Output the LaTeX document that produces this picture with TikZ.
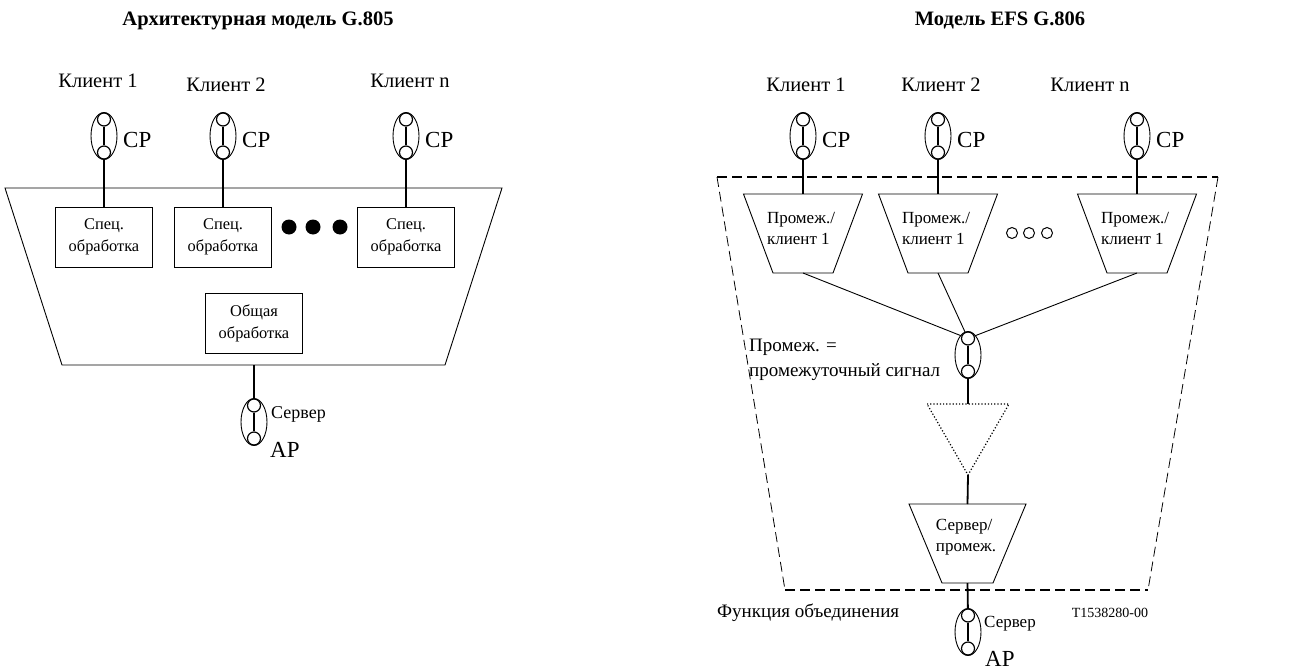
\documentclass[tikz,border=0pt]{standalone}
\usepackage{fontspec}
\setmainfont{Liberation Serif}
\usetikzlibrary{shapes.geometric}
\begin{document}
\begin{tikzpicture}[x=1pt,y=-1pt,
  cpell/.style={draw, ellipse, line width=0.9pt, minimum width=26pt, minimum height=47pt, inner sep=0pt},
  port/.style={draw, circle, line width=1.2pt, minimum size=13pt, inner sep=0pt, fill=white},
  link/.style={line width=1.8pt},
  thinline/.style={line width=0.9pt},
  title/.style={font=\fontsize{20.5}{24}\bfseries\selectfont, inner sep=0pt, anchor=base},
  lbl/.style={font=\fontsize{20.5}{24}\selectfont, inner sep=0pt, anchor=base},
  cplbl/.style={font=\fontsize{23}{26}\selectfont, inner sep=0pt, anchor=base west},
  smalllbl/.style={font=\fontsize{18}{20}\selectfont, inner sep=0pt, anchor=base west},
  procbox/.style={draw, line width=0.9pt, minimum width=97pt, minimum height=60pt, align=center,
    inner sep=0pt, font=\fontsize{16.4}{22}\selectfont},
  traptext/.style={align=left, inner sep=0pt, font=\fontsize{17}{21}\selectfont},
  bigdot/.style={fill=black, circle, minimum size=15pt, inner sep=0pt},
  opendot/.style={draw, circle, line width=1pt, minimum size=11pt, inner sep=0pt},
  fnboundary/.style={dash pattern=on 10pt off 5pt}
]
\useasboundingbox (0,0) rectangle (1289,669);

% connection point: ellipse with two ports
\newcommand\connpt[3]{%
  \node[cpell] (#1) at (#2,#3) {};
  \node[port] (#1a) at (#2,#3-16.5) {};
  \node[port] (#1b) at (#2,#3+16.5) {};
  \draw[link] (#1a) -- (#1b);
}

% ---------------- G.805 architectural model ----------------
\node[title] (tL) at (258,26) {Архитектурная модель G.805};

\node[lbl] (kL1) at (98,87) {Клиент 1};
\node[lbl] (kL2) at (226,91) {Клиент 2};
\node[lbl] (kLn) at (410,87) {Клиент n};

\connpt{cL1}{104}{136}
\connpt{cL2}{223}{136}
\connpt{cLn}{406}{136}
\node[cplbl] (pL1) at (123,147) {CP};
\node[cplbl] (pL2) at (242,147) {CP};
\node[cplbl] (pLn) at (425,147) {CP};

% adaptation block
\draw[thinline] (5,188) -- (502,188) -- (445,365) -- (62,365) -- cycle;
\coordinate (blkL) at (254,365);

\node[procbox] (s1) at (104,237) {Спец.\\обработка};
\node[procbox] (s2) at (223,237) {Спец.\\обработка};
\node[procbox] (sn) at (406,237) {Спец.\\обработка};
\node[procbox] (gen) at (254,323) {Общая\\обработка};

\node[bigdot] (d1) at (289,227) {};
\node[bigdot] (d2) at (313,227) {};
\node[bigdot] (d3) at (340,227) {};

\draw[link] (cL1b) -- (s1.north);
\draw[link] (cL2b) -- (s2.north);
\draw[link] (cLnb) -- (sn.north);

\connpt{aL}{254}{422}
\draw[link] (blkL) -- (aLa);
\node[smalllbl] (srvL) at (271,418) {Сервер};
\node[cplbl] (apL) at (270,457) {AP};

% ---------------- G.806 EFS model ----------------
\node[title] (tR) at (1000,26) {Модель EFS G.806};

\node[lbl] (kR1) at (806,91) {Клиент 1};
\node[lbl] (kR2) at (941,91) {Клиент 2};
\node[lbl] (kRn) at (1090,91) {Клиент n};

\connpt{cR1}{803}{136}
\connpt{cR2}{938}{136}
\connpt{cRn}{1137}{136}
\node[cplbl] (pR1) at (822,147) {CP};
\node[cplbl] (pR2) at (957,147) {CP};
\node[cplbl] (pRn) at (1156,147) {CP};

% combining function boundary
\draw[fnboundary, line width=1.4pt] (717,177) -- (1218,177);
\draw[fnboundary, line width=1.4pt] (785,590) -- (1148,590);
\draw[fnboundary, line width=0.8pt] (717,177) -- (785,590);
\draw[fnboundary, line width=0.8pt] (1218,177) -- (1148,590);

% intermediate/client adaptation functions
\newcommand\adapt[6]{% name, cx, ytop, half top, half bottom, ybottom
  \draw[thinline] (#2-#4,#3) -- (#2+#4,#3) -- (#2+#5,#6) -- (#2-#5,#6) -- cycle;
  \coordinate (#1top) at (#2,#3);
  \coordinate (#1bot) at (#2,#6);
}
\adapt{a1}{803}{194}{59.5}{30}{273}
\adapt{a2}{938}{194}{59.5}{30}{273}
\adapt{an}{1137}{194}{59.5}{30}{273}
\node[traptext] (ta1) at (801,228) {Промеж./\\клиент 1};
\node[traptext] (ta2) at (936,228) {Промеж./\\клиент 1};
\node[traptext] (tan) at (1135,228) {Промеж./\\клиент 1};

\node[opendot] (o1) at (1012,233) {};
\node[opendot] (o2) at (1029,233) {};
\node[opendot] (o3) at (1047,233) {};

\draw[link] (cR1b) -- (a1top);
\draw[link] (cR2b) -- (a2top);
\draw[link] (cRnb) -- (antop);

% intermediate signal point
\connpt{cM}{968}{355}
\draw[thinline] (a1bot) -- (cMa);
\draw[thinline] (a2bot) -- (cMa);
\draw[thinline] (anbot) -- (cMa);
\node[traptext, anchor=west, font=\fontsize{19}{25}\selectfont] (imlbl) at (749,360)
  {Промеж. =\\промежуточный сигнал};

% optional (dotted) function
\draw[line width=1.2pt, dotted] (927,404) -- (1009,404) -- (968,475) -- cycle;
\coordinate (triTop) at (968,404);
\coordinate (triApex) at (968,475);
\draw[link] (cMb) -- (triTop);

% server/intermediate adaptation
\adapt{sv}{967.5}{504}{58.5}{25.5}{583}
\node[traptext] (tsv) at (966,537) {Сервер/\\промеж.};
\draw[link] (triApex) -- (svtop);

\connpt{aR}{968}{632}
\draw[link] (svbot) -- (aRa);
\node[smalllbl, font=\fontsize{17}{20}\selectfont] (srvR) at (984,627) {Сервер};
\node[cplbl] (apR) at (985,666) {AP};

\node[lbl, anchor=base west, font=\fontsize{19}{24}\selectfont] (fnlbl) at (717,617) {Функция объединения};
\node[inner sep=0pt, anchor=base, font=\fontsize{14}{16}\selectfont] (ref) at (1110,617) {T1538280-00};
\end{tikzpicture}
\end{document}
